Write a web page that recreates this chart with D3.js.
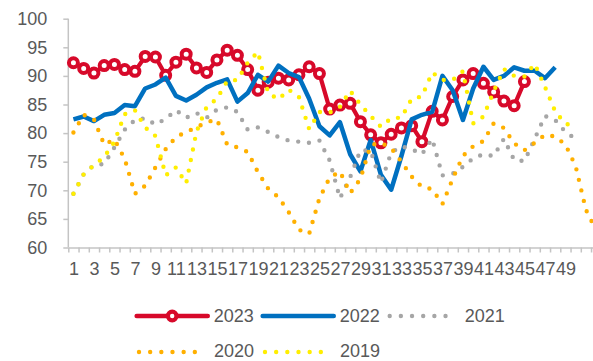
<!DOCTYPE html>
<html>
<head>
<meta charset="utf-8">
<script src="https://cdn.jsdelivr.net/npm/d3@7"></script>
<style>
  html, body { margin: 0; padding: 0; background: #ffffff; overflow: hidden; }
  svg { display: block; font-family: "Liberation Sans", Arial, sans-serif; }
</style>
</head>
<body>
<svg id="chart" width="593" height="361"></svg>
<script>
// Weekly index, weeks 1-52
const weeks = d3.range(1, 53);
const yTicks = [60, 65, 70, 75, 80, 85, 90, 95, 100];
const xLabelWeeks = [1, 3, 5, 7, 9, 11, 13, 15, 17, 19, 21, 23, 25, 27, 29, 31, 33, 35, 37, 39, 41, 43, 45, 47, 49];

const s2023 = [92.3, 91.3, 90.5, 91.8, 92.0, 91.1, 90.8, 93.4, 93.3, 90.1,
               92.4, 93.8, 91.4, 90.6, 92.8, 94.5, 93.6, 91.1, 87.5, 88.9,
               89.6, 89.3, 90.2, 91.6, 90.4, 84.2, 84.9, 85.2, 82.0, 79.7,
               78.3, 79.8, 80.9, 81.3, 78.5, 83.8, 82.3, 86.4, 89.3, 90.4,
               88.7, 87.2, 85.6, 84.8, 89.0];
const s2022 = [82.4, 82.9, 82.1, 83.2, 83.5, 84.9, 84.7, 87.8, 88.5, 89.7,
               86.5, 85.7, 86.7, 88.0, 88.8, 89.4, 85.5, 87.0, 90.2, 89.0,
               91.8, 90.5, 89.8, 86.0, 81.2, 79.6, 81.9, 76.3, 73.3, 78.8,
               72.7, 70.1, 76.0, 82.4, 83.2, 83.7, 90.0, 87.5, 82.3, 87.8,
               91.6, 89.3, 90.0, 91.5, 90.9, 90.9, 89.6, 91.5];
const s2021 = [69.4, 72.8, 74.4, 74.6, 77.5, 80.6, 82.3, 82.6, 81.5, 82.5,
               84.0, 82.7, 83.5, 82.7, 84.1, 84.5, 83.7, 80.6, 81.0, 80.2,
               79.3, 78.7, 78.5, 78.3, 78.7, 75.2, 68.6, 72.3, 77.0, 76.9,
               71.3, 76.6, 77.7, 77.2, 76.3, 79.0, 72.6, 72.9, 74.1, 75.6,
               76.3, 76.0, 79.0, 75.3, 75.1, 79.0, 83.0, 82.3, 80.2, 79.0];
const s2020 = [80.1, 83.2, 82.4, 78.0, 78.9, 75.5, 69.4, 70.8, 74.0, 77.2,
               79.3, 80.2, 81.0, 81.9, 82.4, 78.0, 77.5, 76.7, 73.2, 70.3,
               68.8, 66.2, 63.1, 62.4, 68.6, 72.2, 73.3, 69.5, 72.0, 77.9,
               78.3, 77.4, 75.0, 72.4, 70.6, 70.2, 67.6, 72.0, 76.0, 77.7,
               78.6, 81.7, 80.9, 78.2, 77.0, 78.3, 79.7, 79.4, 78.0, 74.2,
               66.6, 63.0];
const s2019 = [69.4, 72.8, 74.4, 75.8, 78.5, 83.3, 84.0, 81.0, 79.5, 72.6,
               74.0, 71.2, 80.2, 84.6, 86.0, 89.1, 89.3, 92.3, 94.2, 87.0,
               85.9, 87.6, 86.3, 80.7, 83.7, 83.6, 84.6, 87.4, 85.0, 83.0,
               81.1, 82.6, 82.7, 86.0, 86.4, 90.6, 89.3, 89.3, 90.8, 81.7,
               82.9, 87.3, 91.2, 90.0, 89.9, 92.1, 88.1, 83.8, 81.6, 81.4];

const seriesNames = ["2023", "2022", "2021", "2020", "2019"];
const seriesValues = [s2023, s2022, s2021, s2020, s2019];

// Presentation of each series
const styles = {
  "2023": { color: "#d7092a", width: 4.2, dash: null, marker: true },
  "2022": { color: "#0070c0", width: 4.5, dash: null, marker: false },
  "2021": { color: "#a6a6a6", width: 4.4, dash: "0 10.8", marker: false },
  "2020": { color: "#ffb000", width: 4.4, dash: "0 10.8", marker: false },
  "2019": { color: "#ffee00", width: 4.4, dash: "0 10.8", marker: false }
};

const svg = d3.select("#chart");
const textColor = "#595959";
const axisColor = "#c4c4c4";
const fontSize = 18;

const plotLeft = 68.3, band = 10.25, plotTop = 18.7, plotBottom = 247.5;
const x = d3.scaleLinear().domain([0.5, 52.5]).range([plotLeft, plotLeft + band * 52]);
const y = d3.scaleLinear().domain([60, 100]).range([plotBottom, plotTop]);

// Y axis
const yAxis = svg.append("g")
  .attr("transform", `translate(${plotLeft},0)`)
  .call(d3.axisLeft(y).tickValues(yTicks).tickSize(5).tickPadding(16).tickFormat(d3.format("d")));
yAxis.select(".domain").attr("stroke", axisColor).attr("stroke-width", 1.5)
  .attr("d", `M0,${plotBottom}V${plotTop}`);
yAxis.selectAll(".tick line").attr("stroke", axisColor).attr("stroke-width", 1.5);
yAxis.selectAll("text").attr("fill", textColor).style("font-size", fontSize + "px");

// X axis: tick marks at week boundaries
const boundaries = d3.range(0, 53).map(i => i + 0.5);
const xTicks = svg.append("g")
  .attr("transform", `translate(0,${plotBottom})`)
  .call(d3.axisBottom(x).tickValues(boundaries).tickSize(5).tickSizeOuter(0).tickFormat(""));
xTicks.select(".domain").attr("stroke", axisColor).attr("stroke-width", 1.5);
xTicks.selectAll(".tick line").attr("stroke", axisColor).attr("stroke-width", 1.5);

// X axis: week labels
const xLabels = svg.append("g")
  .attr("transform", `translate(0,${plotBottom})`)
  .call(d3.axisBottom(x).tickValues(xLabelWeeks).tickSize(0).tickPadding(15).tickFormat(d3.format("d")));
xLabels.select(".domain").remove();
xLabels.selectAll("text").attr("fill", textColor).style("font-size", fontSize + "px");

// Series lines
const line = d3.line()
  .defined(d => d.v != null)
  .x(d => x(d.w))
  .y(d => y(d.v));

seriesNames.forEach((name, k) => {
  const st = styles[name];
  const pts = seriesValues[k].map((v, i) => ({ w: weeks[i], v }));
  const g = svg.append("g").attr("class", "series-" + name);
  g.append("path")
    .datum(pts)
    .attr("fill", "none")
    .attr("stroke", st.color)
    .attr("stroke-width", st.width)
    .attr("stroke-linejoin", "round")
    .attr("stroke-linecap", st.dash ? "round" : "butt")
    .attr("stroke-dasharray", st.dash)
    .attr("d", line);
  if (st.marker) {
    g.selectAll("circle")
      .data(pts)
      .join("circle")
      .attr("cx", d => x(d.w))
      .attr("cy", d => y(d.v))
      .attr("r", 4.5)
      .attr("fill", "#ffffff")
      .attr("stroke", st.color)
      .attr("stroke-width", 4);
  }
});

// Legend: two rows; the lower row's text sits a little higher so it stays inside the frame
const legendItems = [
  { name: "2023", x: 136.7, y: 316, textY: 316 },
  { name: "2022", x: 262.7, y: 316, textY: 316 },
  { name: "2021", x: 387.7, y: 316, textY: 316 },
  { name: "2020", x: 137.0, y: 352.0, textY: 350.5 },
  { name: "2019", x: 263.0, y: 352.0, textY: 350.5 }
];
const legend = svg.append("g").attr("class", "legend");
legendItems.forEach(item => {
  const st = styles[item.name];
  const g = legend.append("g");
  if (st.dash) {
    g.append("path")
      .attr("d", `M${item.x + 2},${item.y}H${item.x + 69}`)
      .attr("stroke", st.color)
      .attr("stroke-width", st.width)
      .attr("stroke-linecap", "round")
      .attr("stroke-dasharray", "0 " + (67 / 6));
  } else {
    g.append("path")
      .attr("d", `M${item.x},${item.y}H${item.x + 71}`)
      .attr("stroke", st.color)
      .attr("stroke-width", 4.6)
      .attr("stroke-linecap", "round");
  }
  if (st.marker) {
    g.append("circle")
      .attr("cx", item.x + 35.5)
      .attr("cy", item.y)
      .attr("r", 4.3)
      .attr("fill", "#ffffff")
      .attr("stroke", st.color)
      .attr("stroke-width", 4.2);
  }
  g.append("text")
    .attr("x", item.x + 77)
    .attr("y", item.textY)
    .attr("dy", "0.36em")
    .attr("fill", textColor)
    .style("font-size", fontSize + "px")
    .text(item.name);
});
</script>
</body>
</html>
